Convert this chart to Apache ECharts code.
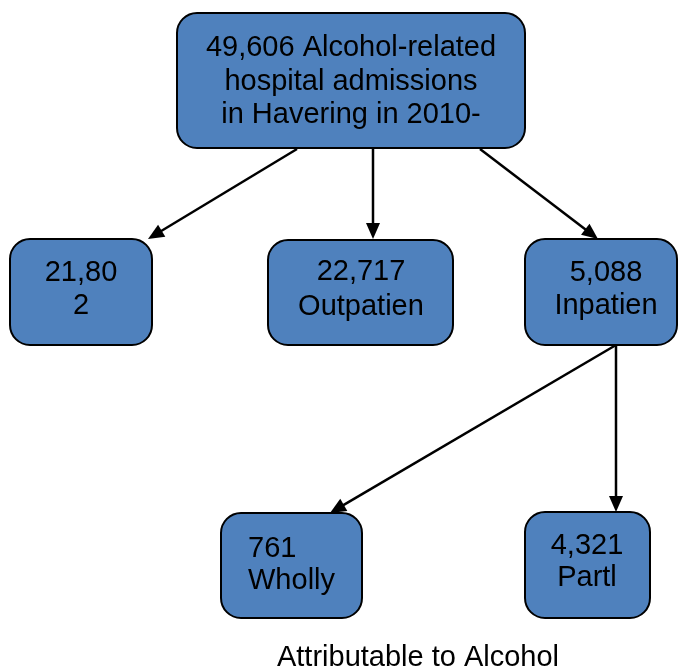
<!DOCTYPE html>
<html>
<head>
<meta charset="utf-8">
<script src="https://cdn.jsdelivr.net/npm/echarts@6/dist/echarts.min.js"></script>
<style>
html,body{margin:0;padding:0;background:#fff;}
#chart{width:678px;height:670px;}
</style>
</head>
<body>
<div id="chart"></div>
<script>
// ---- data ----
const nodeNames = ['Total', 'A&E', 'Outpatient', 'Inpatient', 'Wholly', 'Partly'];
const nodeValues = [49606, 21802, 22717, 5088, 761, 4321];
const nodeLabels = [
  '49,606 Alcohol-related\nhospital admissions\nin Havering in 2010-',
  '21,80\n2',
  '22,717\nOutpatien',
  '5,088\nInpatien',
  '761\nWholly',
  '4,321\nPartl'
];
const edgeFrom = [0, 0, 0, 3, 3];
const edgeTo   = [1, 2, 3, 4, 5];
const footnote = 'Attributable to Alcohol';

// ---- layout (pixel-space diagram coordinates) ----
const boxRects = [
  [177, 13, 525, 148],
  [10, 239, 152, 345],
  [268, 240, 453, 345],
  [525, 239, 677, 345],
  [221, 513, 362, 618],
  [525, 512, 650, 618]
];
const textX     = [351, 81, 361, 606, 248, 587];
const textAlign = ['center', 'center', 'center', 'center', 'left', 'center'];
const textY0    = [48, 273, 272, 273, 549, 546];
const textGap   = [33.5, 33, 35, 33, 32, 32];
const edgeStart = [[297, 149], [373, 149], [480, 149], [616, 345], [616, 345]];
const edgeEnd   = [[148, 239], [373, 239], [598, 239], [330, 513], [616, 512]];
const footPos = [418, 658];

const FONT = '"Liberation Sans", Arial, sans-serif';
const FS = 29;
const FILL = '#4F81BD';

const boxData = boxRects.map((r, i) => [r[0], r[1], r[2], r[3], i]);
const edgeData = edgeFrom.map((f, i) => [edgeStart[i][0], edgeStart[i][1], edgeEnd[i][0], edgeEnd[i][1], i]);

const chart = echarts.init(document.getElementById('chart'), null, {renderer: 'canvas'});
chart.setOption({
  animation: false,
  backgroundColor: '#ffffff',
  grid: {left: 0, right: 0, top: 0, bottom: 0},
  xAxis: {type: 'value', min: 0, max: 678, show: false},
  yAxis: {type: 'value', min: 0, max: 670, inverse: true, show: false},
  series: [
    {
      type: 'custom',
      coordinateSystem: 'cartesian2d',
      clip: false,
      data: edgeData,
      z: 1,
      renderItem: function (params, api) {
        const p0 = api.coord([api.value(0), api.value(1)]);
        const p1 = api.coord([api.value(2), api.value(3)]);
        const dx = p1[0] - p0[0], dy = p1[1] - p0[1];
        const len = Math.sqrt(dx * dx + dy * dy);
        const ux = dx / len, uy = dy / len;
        const L = 16, W = 7;
        const bx = p1[0] - ux * L, by = p1[1] - uy * L;
        return {
          type: 'group',
          children: [
            {type: 'line', shape: {x1: p0[0], y1: p0[1], x2: bx + ux * 2, y2: by + uy * 2},
             style: {stroke: '#000', lineWidth: 2.5}},
            {type: 'polygon', shape: {points: [
              [p1[0], p1[1]],
              [bx - uy * W, by + ux * W],
              [bx + uy * W, by - ux * W]
            ]}, style: {fill: '#000'}}
          ]
        };
      }
    },
    {
      type: 'custom',
      coordinateSystem: 'cartesian2d',
      clip: false,
      data: boxData,
      z: 2,
      renderItem: function (params, api) {
        const i = api.value(4);
        const a = api.coord([api.value(0), api.value(1)]);
        const b = api.coord([api.value(2), api.value(3)]);
        const lines = nodeLabels[i].split('\n');
        const children = [{
          type: 'rect',
          shape: {x: a[0], y: a[1], width: b[0] - a[0], height: b[1] - a[1], r: 20},
          style: {fill: FILL, stroke: '#000', lineWidth: 2}
        }];
        lines.forEach((t, k) => {
          const p = api.coord([textX[i], textY0[i] + k * textGap[i]]);
          children.push({
            type: 'text',
            x: p[0], y: p[1],
            style: {text: t, fill: '#000', font: FS + 'px ' + FONT,
                    align: textAlign[i], verticalAlign: 'middle'}
          });
        });
        return {type: 'group', children: children};
      }
    },
    {
      type: 'custom',
      coordinateSystem: 'cartesian2d',
      clip: false,
      data: [[footPos[0], footPos[1]]],
      z: 3,
      renderItem: function (params, api) {
        const p = api.coord([api.value(0), api.value(1)]);
        return {type: 'text', x: p[0], y: p[1],
          style: {text: footnote, fill: '#000', font: FS + 'px ' + FONT,
                  align: 'center', verticalAlign: 'middle'}};
      }
    }
  ]
});
</script>
</body>
</html>
